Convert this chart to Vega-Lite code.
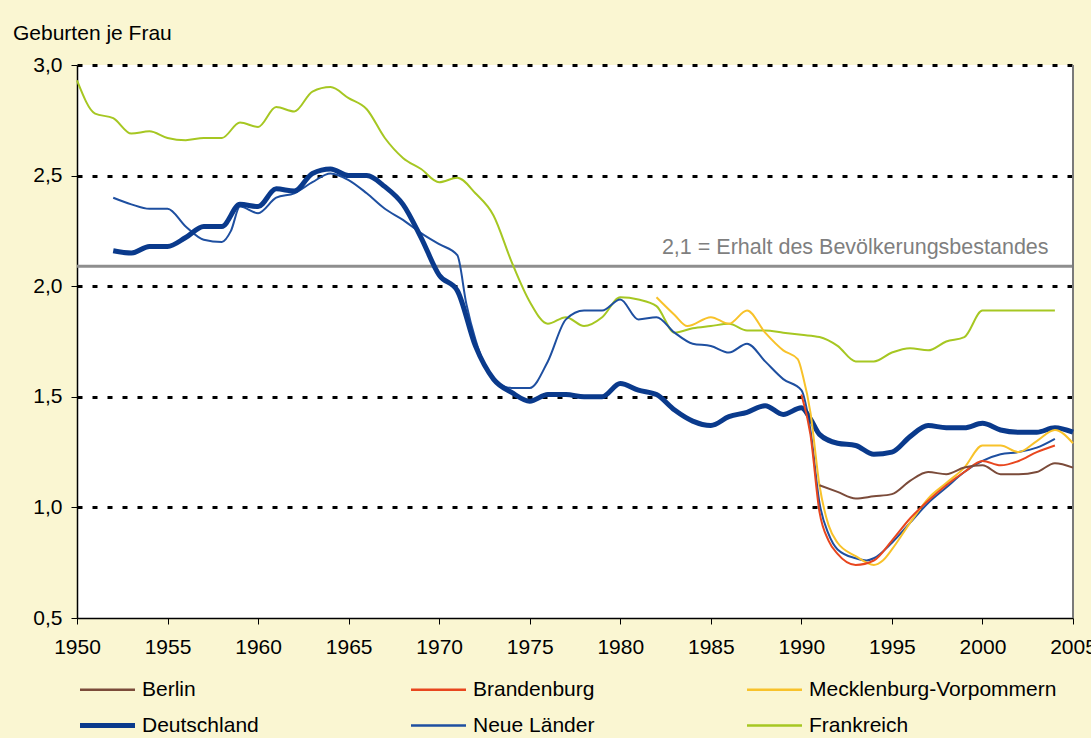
{
  "$schema": "https://vega.github.io/schema/vega-lite/v6.json",
  "width": 996,
  "height": 553,
  "autosize": {"type": "none"},
  "padding": {"left": 77, "top": 65, "right": 18, "bottom": 120},
  "background": "#FAF6D2",
  "config": {
    "view": {"fill": "white", "stroke": null},
    "font": "Liberation Sans"
  },
  "title": {
    "text": "Geburten je Frau",
    "anchor": "start",
    "frame": "group",
    "dx": -64,
    "dy": 19,
    "fontSize": 21,
    "fontWeight": "normal",
    "color": "black",
    "baseline": "alphabetic",
    "offset": 12
  },
  "datasets": {
    "one": [{"k": 1}],
    "tfr": [
      {"j": 1950, "s": "Frankreich", "v": 2.93},
      {"j": 1951, "s": "Frankreich", "v": 2.78},
      {"j": 1952, "s": "Frankreich", "v": 2.76},
      {"j": 1953, "s": "Frankreich", "v": 2.69},
      {"j": 1954, "s": "Frankreich", "v": 2.70},
      {"j": 1955, "s": "Frankreich", "v": 2.67},
      {"j": 1956, "s": "Frankreich", "v": 2.66},
      {"j": 1957, "s": "Frankreich", "v": 2.67},
      {"j": 1958, "s": "Frankreich", "v": 2.67},
      {"j": 1959, "s": "Frankreich", "v": 2.74},
      {"j": 1960, "s": "Frankreich", "v": 2.72},
      {"j": 1961, "s": "Frankreich", "v": 2.81},
      {"j": 1962, "s": "Frankreich", "v": 2.79},
      {"j": 1963, "s": "Frankreich", "v": 2.88},
      {"j": 1964, "s": "Frankreich", "v": 2.90},
      {"j": 1965, "s": "Frankreich", "v": 2.85},
      {"j": 1966, "s": "Frankreich", "v": 2.80},
      {"j": 1967, "s": "Frankreich", "v": 2.67},
      {"j": 1968, "s": "Frankreich", "v": 2.58},
      {"j": 1969, "s": "Frankreich", "v": 2.53},
      {"j": 1970, "s": "Frankreich", "v": 2.47},
      {"j": 1971, "s": "Frankreich", "v": 2.49},
      {"j": 1972, "s": "Frankreich", "v": 2.42},
      {"j": 1973, "s": "Frankreich", "v": 2.32},
      {"j": 1974, "s": "Frankreich", "v": 2.11},
      {"j": 1975, "s": "Frankreich", "v": 1.93},
      {"j": 1976, "s": "Frankreich", "v": 1.83},
      {"j": 1977, "s": "Frankreich", "v": 1.86},
      {"j": 1978, "s": "Frankreich", "v": 1.82},
      {"j": 1979, "s": "Frankreich", "v": 1.86},
      {"j": 1980, "s": "Frankreich", "v": 1.95},
      {"j": 1981, "s": "Frankreich", "v": 1.94},
      {"j": 1982, "s": "Frankreich", "v": 1.91},
      {"j": 1983, "s": "Frankreich", "v": 1.79},
      {"j": 1984, "s": "Frankreich", "v": 1.81},
      {"j": 1985, "s": "Frankreich", "v": 1.82},
      {"j": 1986, "s": "Frankreich", "v": 1.83},
      {"j": 1987, "s": "Frankreich", "v": 1.80},
      {"j": 1988, "s": "Frankreich", "v": 1.80},
      {"j": 1989, "s": "Frankreich", "v": 1.79},
      {"j": 1990, "s": "Frankreich", "v": 1.78},
      {"j": 1991, "s": "Frankreich", "v": 1.77},
      {"j": 1992, "s": "Frankreich", "v": 1.73},
      {"j": 1993, "s": "Frankreich", "v": 1.66},
      {"j": 1994, "s": "Frankreich", "v": 1.66},
      {"j": 1995, "s": "Frankreich", "v": 1.70},
      {"j": 1996, "s": "Frankreich", "v": 1.72},
      {"j": 1997, "s": "Frankreich", "v": 1.71},
      {"j": 1998, "s": "Frankreich", "v": 1.75},
      {"j": 1999, "s": "Frankreich", "v": 1.77},
      {"j": 2000, "s": "Frankreich", "v": 1.89},
      {"j": 2001, "s": "Frankreich", "v": 1.89},
      {"j": 2002, "s": "Frankreich", "v": 1.89},
      {"j": 2003, "s": "Frankreich", "v": 1.89},
      {"j": 2004, "s": "Frankreich", "v": 1.89},

      {"j": 1952, "s": "Neue Länder", "v": 2.40},
      {"j": 1953, "s": "Neue Länder", "v": 2.37},
      {"j": 1954, "s": "Neue Länder", "v": 2.35},
      {"j": 1955, "s": "Neue Länder", "v": 2.35},
      {"j": 1956, "s": "Neue Länder", "v": 2.27},
      {"j": 1957, "s": "Neue Länder", "v": 2.21},
      {"j": 1958, "s": "Neue Länder", "v": 2.20},
      {"j": 1958.5, "s": "Neue Länder", "v": 2.25},
      {"j": 1959, "s": "Neue Länder", "v": 2.36},
      {"j": 1960, "s": "Neue Länder", "v": 2.33},
      {"j": 1961, "s": "Neue Länder", "v": 2.40},
      {"j": 1962, "s": "Neue Länder", "v": 2.42},
      {"j": 1963, "s": "Neue Länder", "v": 2.47},
      {"j": 1964, "s": "Neue Länder", "v": 2.51},
      {"j": 1965, "s": "Neue Länder", "v": 2.48},
      {"j": 1966, "s": "Neue Länder", "v": 2.42},
      {"j": 1967, "s": "Neue Länder", "v": 2.35},
      {"j": 1968, "s": "Neue Länder", "v": 2.30},
      {"j": 1969, "s": "Neue Länder", "v": 2.24},
      {"j": 1970, "s": "Neue Länder", "v": 2.19},
      {"j": 1971, "s": "Neue Länder", "v": 2.14},
      {"j": 1971.5, "s": "Neue Länder", "v": 1.92},
      {"j": 1972, "s": "Neue Länder", "v": 1.76},
      {"j": 1973, "s": "Neue Länder", "v": 1.58},
      {"j": 1974, "s": "Neue Länder", "v": 1.54},
      {"j": 1975, "s": "Neue Länder", "v": 1.54},
      {"j": 1976, "s": "Neue Länder", "v": 1.66},
      {"j": 1977, "s": "Neue Länder", "v": 1.85},
      {"j": 1978, "s": "Neue Länder", "v": 1.89},
      {"j": 1979, "s": "Neue Länder", "v": 1.89},
      {"j": 1980, "s": "Neue Länder", "v": 1.94},
      {"j": 1981, "s": "Neue Länder", "v": 1.85},
      {"j": 1982, "s": "Neue Länder", "v": 1.86},
      {"j": 1983, "s": "Neue Länder", "v": 1.79},
      {"j": 1984, "s": "Neue Länder", "v": 1.74},
      {"j": 1985, "s": "Neue Länder", "v": 1.73},
      {"j": 1986, "s": "Neue Länder", "v": 1.70},
      {"j": 1987, "s": "Neue Länder", "v": 1.74},
      {"j": 1988, "s": "Neue Länder", "v": 1.66},
      {"j": 1989, "s": "Neue Länder", "v": 1.58},
      {"j": 1990, "s": "Neue Länder", "v": 1.53},
      {"j": 1990.5, "s": "Neue Länder", "v": 1.35},
      {"j": 1991, "s": "Neue Länder", "v": 1.02},
      {"j": 1991.5, "s": "Neue Länder", "v": 0.88},
      {"j": 1992, "s": "Neue Länder", "v": 0.81},
      {"j": 1993, "s": "Neue Länder", "v": 0.77},
      {"j": 1993.6, "s": "Neue Länder", "v": 0.76},
      {"j": 1994, "s": "Neue Länder", "v": 0.77},
      {"j": 1995, "s": "Neue Länder", "v": 0.84},
      {"j": 1996, "s": "Neue Länder", "v": 0.93},
      {"j": 1997, "s": "Neue Länder", "v": 1.02},
      {"j": 1998, "s": "Neue Länder", "v": 1.09},
      {"j": 1999, "s": "Neue Länder", "v": 1.16},
      {"j": 2000, "s": "Neue Länder", "v": 1.21},
      {"j": 2001, "s": "Neue Länder", "v": 1.24},
      {"j": 2002, "s": "Neue Länder", "v": 1.25},
      {"j": 2003, "s": "Neue Länder", "v": 1.27},
      {"j": 2004, "s": "Neue Länder", "v": 1.31},

      {"j": 1952, "s": "Deutschland", "v": 2.16},
      {"j": 1953, "s": "Deutschland", "v": 2.15},
      {"j": 1954, "s": "Deutschland", "v": 2.18},
      {"j": 1955, "s": "Deutschland", "v": 2.18},
      {"j": 1956, "s": "Deutschland", "v": 2.22},
      {"j": 1957, "s": "Deutschland", "v": 2.27},
      {"j": 1958, "s": "Deutschland", "v": 2.27},
      {"j": 1959, "s": "Deutschland", "v": 2.37},
      {"j": 1960, "s": "Deutschland", "v": 2.36},
      {"j": 1961, "s": "Deutschland", "v": 2.44},
      {"j": 1962, "s": "Deutschland", "v": 2.43},
      {"j": 1963, "s": "Deutschland", "v": 2.51},
      {"j": 1964, "s": "Deutschland", "v": 2.53},
      {"j": 1965, "s": "Deutschland", "v": 2.50},
      {"j": 1966, "s": "Deutschland", "v": 2.50},
      {"j": 1967, "s": "Deutschland", "v": 2.45},
      {"j": 1968, "s": "Deutschland", "v": 2.37},
      {"j": 1969, "s": "Deutschland", "v": 2.22},
      {"j": 1970, "s": "Deutschland", "v": 2.05},
      {"j": 1971, "s": "Deutschland", "v": 1.98},
      {"j": 1972, "s": "Deutschland", "v": 1.73},
      {"j": 1973, "s": "Deutschland", "v": 1.58},
      {"j": 1974, "s": "Deutschland", "v": 1.52},
      {"j": 1975, "s": "Deutschland", "v": 1.48},
      {"j": 1976, "s": "Deutschland", "v": 1.51},
      {"j": 1977, "s": "Deutschland", "v": 1.51},
      {"j": 1978, "s": "Deutschland", "v": 1.50},
      {"j": 1979, "s": "Deutschland", "v": 1.50},
      {"j": 1980, "s": "Deutschland", "v": 1.56},
      {"j": 1981, "s": "Deutschland", "v": 1.53},
      {"j": 1982, "s": "Deutschland", "v": 1.51},
      {"j": 1983, "s": "Deutschland", "v": 1.44},
      {"j": 1984, "s": "Deutschland", "v": 1.39},
      {"j": 1985, "s": "Deutschland", "v": 1.37},
      {"j": 1986, "s": "Deutschland", "v": 1.41},
      {"j": 1987, "s": "Deutschland", "v": 1.43},
      {"j": 1988, "s": "Deutschland", "v": 1.46},
      {"j": 1989, "s": "Deutschland", "v": 1.42},
      {"j": 1990, "s": "Deutschland", "v": 1.45},
      {"j": 1990.5, "s": "Deutschland", "v": 1.40},
      {"j": 1991, "s": "Deutschland", "v": 1.33},
      {"j": 1992, "s": "Deutschland", "v": 1.29},
      {"j": 1993, "s": "Deutschland", "v": 1.28},
      {"j": 1994, "s": "Deutschland", "v": 1.24},
      {"j": 1995, "s": "Deutschland", "v": 1.25},
      {"j": 1996, "s": "Deutschland", "v": 1.32},
      {"j": 1997, "s": "Deutschland", "v": 1.37},
      {"j": 1998, "s": "Deutschland", "v": 1.36},
      {"j": 1999, "s": "Deutschland", "v": 1.36},
      {"j": 2000, "s": "Deutschland", "v": 1.38},
      {"j": 2001, "s": "Deutschland", "v": 1.35},
      {"j": 2002, "s": "Deutschland", "v": 1.34},
      {"j": 2003, "s": "Deutschland", "v": 1.34},
      {"j": 2004, "s": "Deutschland", "v": 1.36},
      {"j": 2005, "s": "Deutschland", "v": 1.34},

      {"j": 1982, "s": "Mecklenburg-Vorpommern", "v": 1.95},
      {"j": 1983, "s": "Mecklenburg-Vorpommern", "v": 1.87},
      {"j": 1983.7, "s": "Mecklenburg-Vorpommern", "v": 1.82},
      {"j": 1985, "s": "Mecklenburg-Vorpommern", "v": 1.86},
      {"j": 1986, "s": "Mecklenburg-Vorpommern", "v": 1.83},
      {"j": 1987, "s": "Mecklenburg-Vorpommern", "v": 1.89},
      {"j": 1988, "s": "Mecklenburg-Vorpommern", "v": 1.79},
      {"j": 1989, "s": "Mecklenburg-Vorpommern", "v": 1.71},
      {"j": 1989.8, "s": "Mecklenburg-Vorpommern", "v": 1.67},
      {"j": 1990.1, "s": "Mecklenburg-Vorpommern", "v": 1.59},
      {"j": 1990.5, "s": "Mecklenburg-Vorpommern", "v": 1.43},
      {"j": 1991, "s": "Mecklenburg-Vorpommern", "v": 1.10},
      {"j": 1991.5, "s": "Mecklenburg-Vorpommern", "v": 0.92},
      {"j": 1992, "s": "Mecklenburg-Vorpommern", "v": 0.84},
      {"j": 1993, "s": "Mecklenburg-Vorpommern", "v": 0.78},
      {"j": 1994, "s": "Mecklenburg-Vorpommern", "v": 0.74},
      {"j": 1994.5, "s": "Mecklenburg-Vorpommern", "v": 0.76},
      {"j": 1995, "s": "Mecklenburg-Vorpommern", "v": 0.81},
      {"j": 1996, "s": "Mecklenburg-Vorpommern", "v": 0.93},
      {"j": 1997, "s": "Mecklenburg-Vorpommern", "v": 1.04},
      {"j": 1998, "s": "Mecklenburg-Vorpommern", "v": 1.11},
      {"j": 1999, "s": "Mecklenburg-Vorpommern", "v": 1.18},
      {"j": 2000, "s": "Mecklenburg-Vorpommern", "v": 1.28},
      {"j": 2001, "s": "Mecklenburg-Vorpommern", "v": 1.28},
      {"j": 2002, "s": "Mecklenburg-Vorpommern", "v": 1.25},
      {"j": 2003, "s": "Mecklenburg-Vorpommern", "v": 1.30},
      {"j": 2004, "s": "Mecklenburg-Vorpommern", "v": 1.35},
      {"j": 2005, "s": "Mecklenburg-Vorpommern", "v": 1.29},

      {"j": 1990, "s": "Brandenburg", "v": 1.51},
      {"j": 1990.5, "s": "Brandenburg", "v": 1.33},
      {"j": 1991, "s": "Brandenburg", "v": 0.98},
      {"j": 1991.5, "s": "Brandenburg", "v": 0.85},
      {"j": 1992, "s": "Brandenburg", "v": 0.79},
      {"j": 1993, "s": "Brandenburg", "v": 0.74},
      {"j": 1994, "s": "Brandenburg", "v": 0.76},
      {"j": 1995, "s": "Brandenburg", "v": 0.85},
      {"j": 1996, "s": "Brandenburg", "v": 0.95},
      {"j": 1997, "s": "Brandenburg", "v": 1.03},
      {"j": 1998, "s": "Brandenburg", "v": 1.10},
      {"j": 1999, "s": "Brandenburg", "v": 1.16},
      {"j": 2000, "s": "Brandenburg", "v": 1.21},
      {"j": 2001, "s": "Brandenburg", "v": 1.19},
      {"j": 2002, "s": "Brandenburg", "v": 1.21},
      {"j": 2003, "s": "Brandenburg", "v": 1.25},
      {"j": 2004, "s": "Brandenburg", "v": 1.28},

      {"j": 1991, "s": "Berlin", "v": 1.10},
      {"j": 1992, "s": "Berlin", "v": 1.07},
      {"j": 1993, "s": "Berlin", "v": 1.04},
      {"j": 1994, "s": "Berlin", "v": 1.05},
      {"j": 1995, "s": "Berlin", "v": 1.06},
      {"j": 1996, "s": "Berlin", "v": 1.12},
      {"j": 1997, "s": "Berlin", "v": 1.16},
      {"j": 1998, "s": "Berlin", "v": 1.15},
      {"j": 1999, "s": "Berlin", "v": 1.18},
      {"j": 2000, "s": "Berlin", "v": 1.19},
      {"j": 2001, "s": "Berlin", "v": 1.15},
      {"j": 2002, "s": "Berlin", "v": 1.15},
      {"j": 2003, "s": "Berlin", "v": 1.16},
      {"j": 2004, "s": "Berlin", "v": 1.20},
      {"j": 2005, "s": "Berlin", "v": 1.18}
    ]
  },
  "layer": [
    {
      "data": {"name": "one"},
      "mark": {"type": "rule", "color": "#8E8E8E", "strokeWidth": 3},
      "encoding": {"y": {"datum": 2.09, "type": "quantitative"}}
    },
    {
      "data": {"name": "one"},
      "mark": {"type": "text", "align": "right", "baseline": "alphabetic", "dy": -12, "fontSize": 21.5, "color": "#7F7F7F"},
      "encoding": {
        "x": {"datum": 2003.65, "type": "quantitative"},
        "y": {"datum": 2.09, "type": "quantitative"},
        "text": {"value": "2,1 = Erhalt des Bevölkerungsbestandes"}
      }
    },
    {
      "data": {"name": "one"},
      "mark": {"type": "rule", "color": "#7A7A7A", "strokeWidth": 2},
      "encoding": {"x": {"datum": 2005, "type": "quantitative"}}
    },
    {
      "data": {"name": "tfr"},
      "mark": {"type": "line", "interpolate": "monotone"},
      "encoding": {
        "x": {
          "field": "j",
          "type": "quantitative",
          "scale": {"domain": [1950, 2005], "nice": false, "zero": false},
          "axis": {
            "title": null,
            "values": [1950, 1955, 1960, 1965, 1970, 1975, 1980, 1985, 1990, 1995, 2000, 2005],
            "format": "d",
            "labelFontSize": 21,
            "labelColor": "black",
            "labelFlush": false,
            "labelOverlap": false,
            "labelPadding": 12,
            "tickSize": 6,
            "tickColor": "black",
            "domainColor": "black",
            "domainWidth": 1.5,
            "grid": false
          }
        },
        "y": {
          "field": "v",
          "type": "quantitative",
          "scale": {"domain": [0.5, 3.0], "nice": false, "zero": false},
          "axis": {
            "title": null,
            "values": [0.5, 1.0, 1.5, 2.0, 2.5, 3.0],
            "labelExpr": "replace(format(datum.value, '.1f'), '.', ',')",
            "labelFontSize": 21,
            "labelColor": "black",
            "labelPadding": 9,
            "tickSize": 6,
            "tickColor": "black",
            "domainColor": "black",
            "domainWidth": 1.5,
            "grid": true,
            "gridColor": "black",
            "gridWidth": 3,
            "gridDash": [5, 10],
            "gridOpacity": {"condition": {"test": "datum.value === 0.5", "value": 0}, "value": 1}
          }
        },
        "color": {
          "field": "s",
          "type": "nominal",
          "scale": {
            "domain": ["Berlin", "Brandenburg", "Mecklenburg-Vorpommern", "Deutschland", "Neue Länder", "Frankreich"],
            "range": ["#7B4B3A", "#E8461E", "#F8C22A", "#0A3A8C", "#1E4FA0", "#A6C722"]
          },
          "legend": {
            "title": null,
            "orient": "none",
            "legendX": 20,
            "legendY": 614,
            "direction": "horizontal",
            "columns": 3,
            "symbolType": "stroke",
            "symbolSize": 3025,
            "symbolStrokeWidth": 2.5,
            "labelFontSize": 21,
            "labelColor": "black",
            "labelOffset": 24,
            "labelLimit": 300,
            "columnPadding": 147,
            "rowPadding": 14,
            "encode": {
              "symbols": {
                "update": {
                  "strokeWidth": {"signal": "datum.value === 'Deutschland' ? 5 : 2.5"}
                }
              }
            }
          }
        },
        "strokeWidth": {
          "condition": {"test": "datum.s === 'Deutschland'", "value": 5},
          "value": 2
        }
      }
    }
  ]
}
